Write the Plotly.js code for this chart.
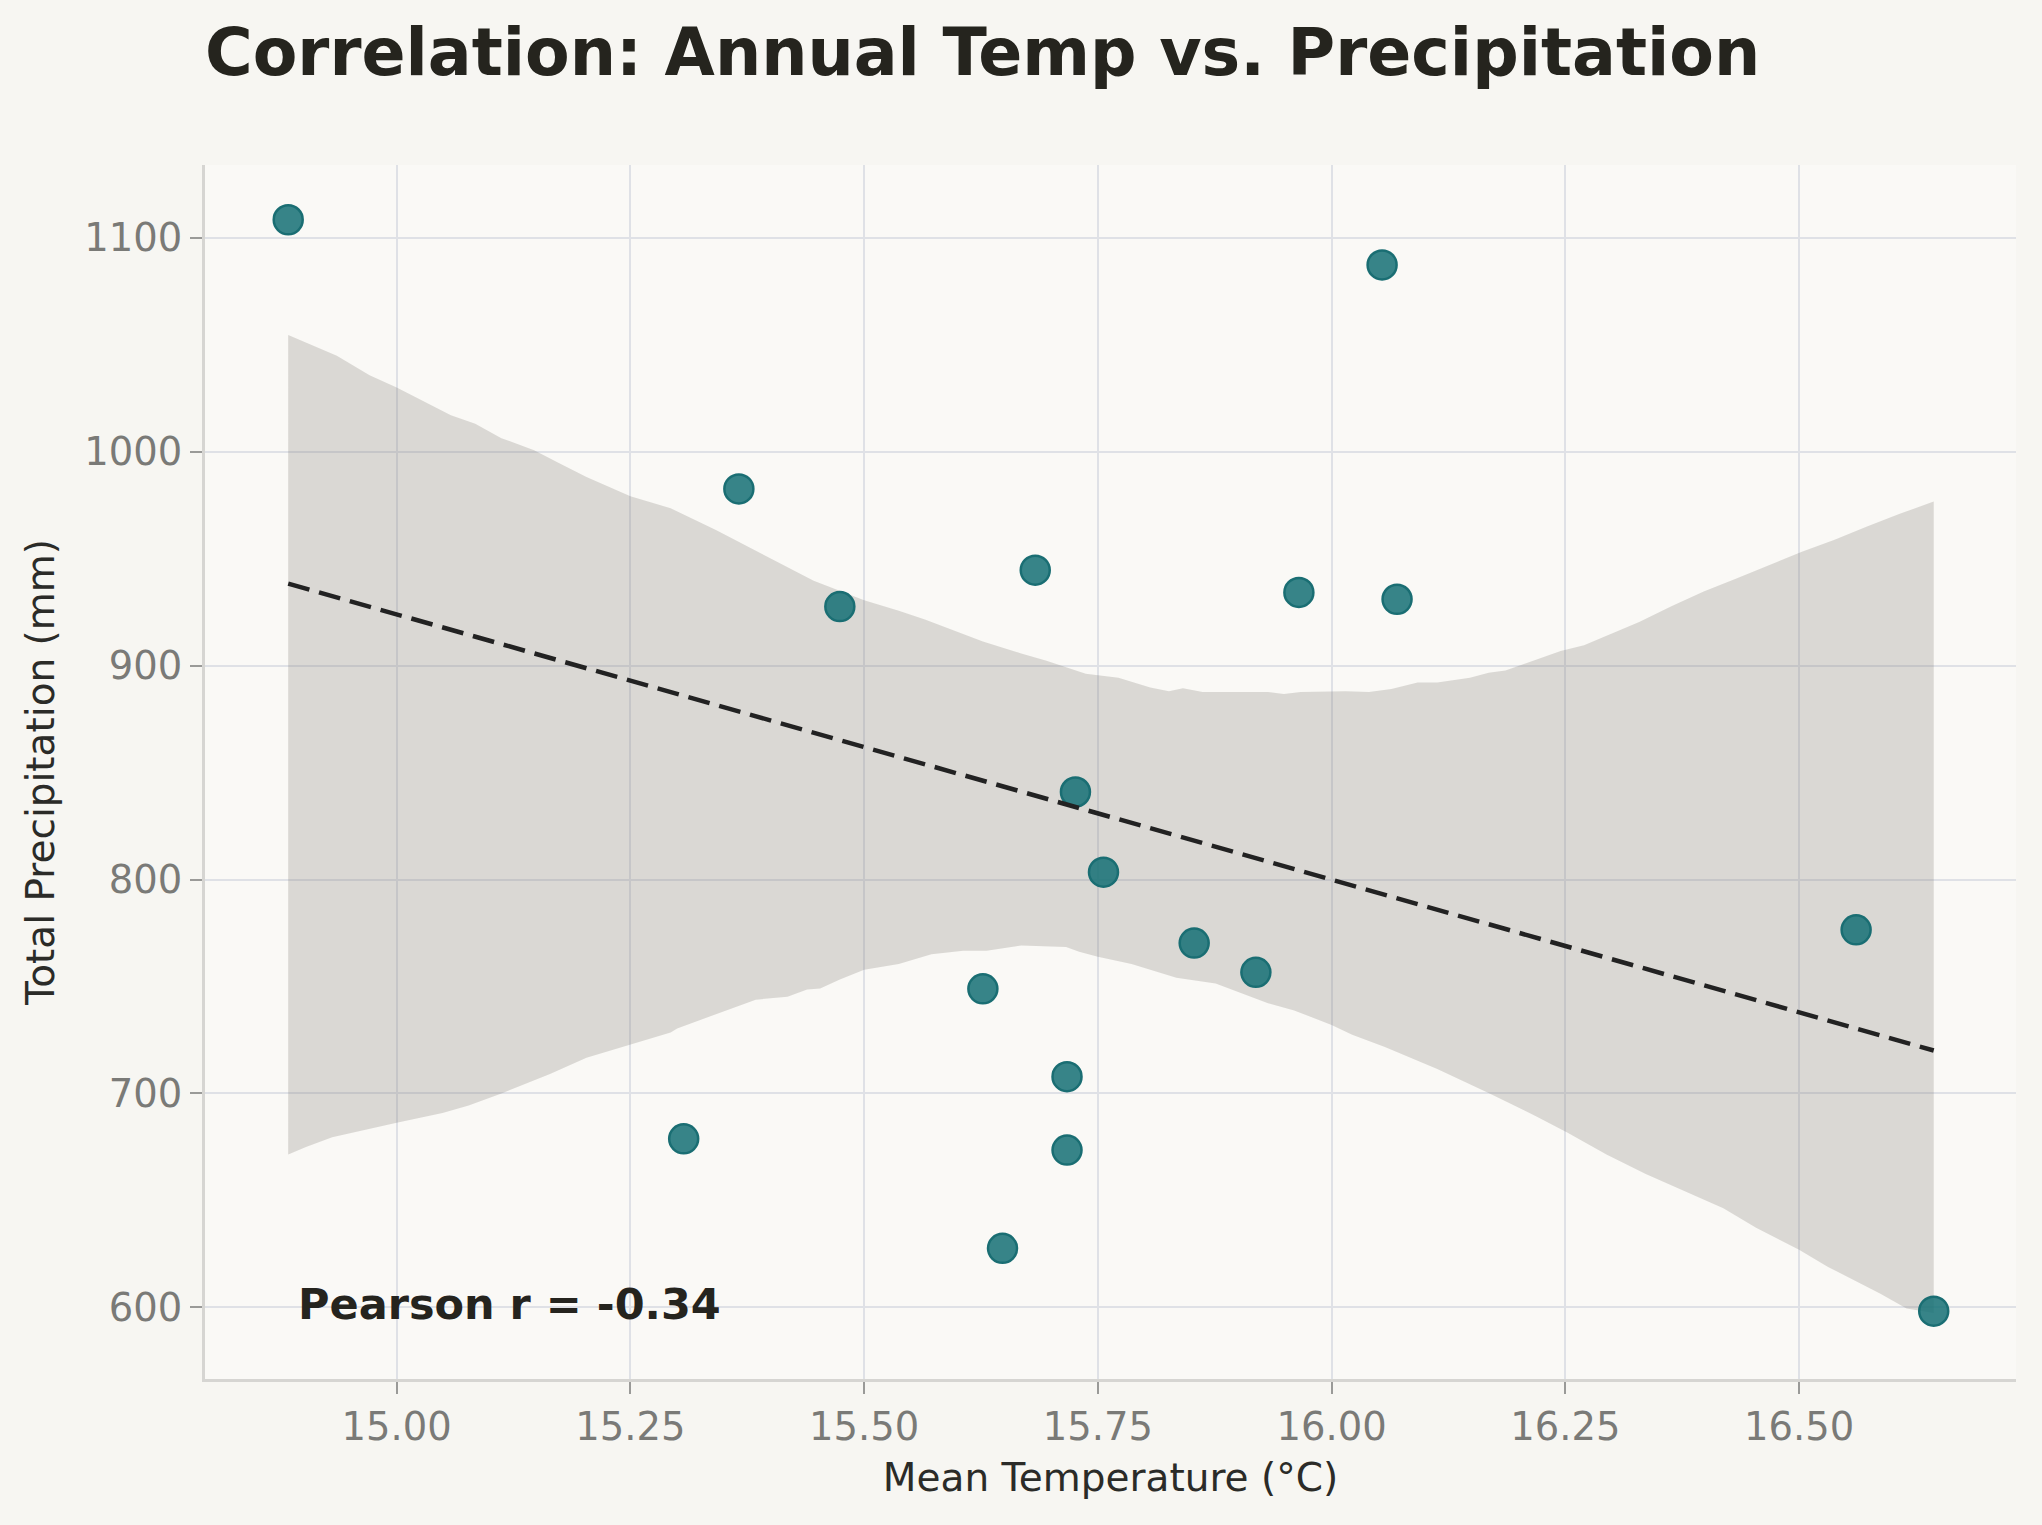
<!DOCTYPE html>
<html>
<head>
<meta charset="utf-8">
<script src="https://cdn.plot.ly/plotly-3.0.1.min.js"></script>
<style>
  html, body { margin: 0; padding: 0; background: #f7f6f2; }
  #chart { width: 2042px; height: 1525px; }
</style>
</head>
<body>
<div id="chart"></div>
<script>
// ---- Data ----
const meanTemp = [14.884, 16.054, 15.366, 15.474, 15.683, 15.965, 16.070, 15.726, 15.756,
                  15.853, 15.919, 16.561, 15.627, 15.717, 15.717, 15.307, 15.648, 16.644];
const totalPrecip = [1108.4, 1087.3, 982.6, 927.6, 944.6, 934.2, 931.0, 840.9, 803.4,
                     770.3, 756.6, 776.5, 748.9, 707.8, 673.5, 678.8, 627.6, 598.2];

// Bootstrap confidence band (upper and lower edges)
const bandUpperX = [14.884, 14.936, 14.971, 15.000, 15.058, 15.084, 15.112, 15.147, 15.175, 15.203,
                    15.250, 15.293, 15.342, 15.377, 15.412, 15.446, 15.500, 15.537, 15.565, 15.600,
                    15.627, 15.668, 15.695, 15.737, 15.772, 15.806, 15.826, 15.841, 15.862, 15.932,
                    15.949, 15.967, 16.015, 16.040, 16.064, 16.092, 16.113, 16.148, 16.168, 16.186,
                    16.217, 16.245, 16.270, 16.294, 16.329, 16.364, 16.398, 16.433, 16.468, 16.503,
                    16.538, 16.572, 16.607, 16.644];
const bandUpperY = [1054.5, 1044.8, 1035.7, 1030.0, 1017.0, 1013.0, 1006.3, 1000.7, 994.3, 988.2,
                    979.2, 973.5, 963.3, 955.4, 947.5, 939.6, 930.5, 925.6, 921.5, 915.8,
                    911.3, 905.7, 902.3, 896.2, 894.3, 889.8, 888.0, 889.4, 887.6, 887.6,
                    886.7, 887.6, 888.0, 887.6, 889.1, 892.1, 892.1, 894.3, 896.6, 897.7,
                    902.3, 906.8, 909.5, 914.0, 920.4, 927.8, 934.6, 940.7, 946.8, 953.2,
                    958.8, 964.9, 970.8, 976.7];
const bandLowerX = [14.884, 14.903, 14.931, 14.966, 15.000, 15.049, 15.077, 15.112, 15.164, 15.203,
                    15.250, 15.293, 15.300, 15.342, 15.384, 15.418, 15.439, 15.453, 15.474, 15.500,
                    15.537, 15.572, 15.606, 15.631, 15.668, 15.716, 15.730, 15.750, 15.786, 15.834,
                    15.876, 15.932, 15.960, 16.000, 16.022, 16.057, 16.113, 16.169, 16.217, 16.252,
                    16.294, 16.336, 16.384, 16.419, 16.454, 16.500, 16.531, 16.559, 16.587, 16.615,
                    16.644];
const bandLowerY = [671.5, 674.9, 679.5, 682.9, 686.3, 690.9, 694.3, 700.0, 709.1, 716.7,
                    722.8, 728.5, 730.4, 737.2, 743.8, 745.2, 748.6, 749.1, 753.2, 757.8,
                    760.5, 765.1, 766.7, 766.7, 769.2, 768.5, 766.2, 763.9, 760.5, 754.1,
                    751.4, 742.2, 738.8, 732.0, 727.4, 721.7, 711.4, 700.0, 689.7, 681.7,
                    671.5, 662.3, 653.2, 646.3, 637.2, 626.9, 618.9, 612.6, 606.4, 599.5,
                    597.3];

const xTickVals = [15.00, 15.25, 15.50, 15.75, 16.00, 16.25, 16.50];
const xTickText = ['15.00', '15.25', '15.50', '15.75', '16.00', '16.25', '16.50'];
const yTickVals = [600, 700, 800, 900, 1000, 1100];
const yTickText = ['600', '700', '800', '900', '1000', '1100'];

const titleText = 'Correlation: Annual Temp vs. Precipitation';
const xTitle = 'Mean Temperature (°C)';
const yTitle = 'Total Precipitation (mm)';
const pearsonText = 'Pearson r = -0.34';

// ---- Least-squares fit from the data ----
const n = meanTemp.length;
const mx = meanTemp.reduce((a, b) => a + b, 0) / n;
const my = totalPrecip.reduce((a, b) => a + b, 0) / n;
let sxy = 0, sxx = 0;
for (let i = 0; i < n; i++) {
  sxy += (meanTemp[i] - mx) * (totalPrecip[i] - my);
  sxx += (meanTemp[i] - mx) ** 2;
}
const slope = sxy / sxx;
const intercept = my - slope * mx;
const xMin = Math.min(...meanTemp), xMax = Math.max(...meanTemp);
const fitX = [xMin, xMax];
const fitY = fitX.map(v => intercept + slope * v);

// band polygon
const bandX = bandUpperX.concat(bandLowerX.slice().reverse());
const bandY = bandUpperY.concat(bandLowerY.slice().reverse());

const FONT = 'DejaVu Sans, Verdana, sans-serif';

const traces = [
  {
    x: bandX, y: bandY, type: 'scatter', mode: 'lines',
    fill: 'toself', fillcolor: 'rgba(122,120,112,0.25)',
    line: { width: 0, color: 'rgba(0,0,0,0)' },
    hoverinfo: 'skip', showlegend: false
  },
  {
    x: meanTemp, y: totalPrecip, type: 'scatter', mode: 'markers',
    marker: { size: 29, color: 'rgba(20,112,116,0.85)', line: { color: '#1a6e73', width: 2.5 } },
    showlegend: false
  },
  {
    x: fitX, y: fitY, type: 'scatter', mode: 'lines',
    line: { color: '#222222', width: 4.5, dash: '22px,10px' },
    showlegend: false
  }
];

const layout = {
  width: 2042, height: 1525, autosize: false,
  paper_bgcolor: '#f7f6f2',
  plot_bgcolor: '#faf9f6',
  margin: { l: 205, r: 26, t: 165, b: 146 },
  font: { family: FONT, color: '#2b2b28' },
  showlegend: false,
  title: {
    text: '<b>' + titleText + '</b>',
    font: { family: FONT, size: 65, color: '#25241e' },
    xref: 'paper', x: 0, xanchor: 'left',
    yref: 'container', y: 0.966, yanchor: 'middle'
  },
  xaxis: {
    range: [14.795, 16.732],
    tickvals: xTickVals, ticktext: xTickText,
    showgrid: true, gridcolor: '#dfe1e6', gridwidth: 2,
    zeroline: false,
    showline: true, linecolor: '#d6d5d2', linewidth: 3,
    ticks: 'outside', ticklen: 12, tickwidth: 2, tickcolor: '#9a9a98',
    tickfont: { family: FONT, size: 38.5, color: '#7a7a77' },
    title: { text: xTitle, font: { family: FONT, size: 39, color: '#2b2b28' }, standoff: 16 },
    mirror: false
  },
  yaxis: {
    range: [566.5, 1134],
    tickvals: yTickVals, ticktext: yTickText,
    showgrid: true, gridcolor: '#dfe1e6', gridwidth: 2,
    zeroline: false,
    showline: true, linecolor: '#d6d5d2', linewidth: 3,
    ticks: 'outside', ticklen: 12, tickwidth: 2, tickcolor: '#9a9a98',
    tickfont: { family: FONT, size: 38.5, color: '#7a7a77' },
    title: { text: yTitle, font: { family: FONT, size: 39, color: '#2b2b28' }, standoff: 18 },
    mirror: false
  },
  annotations: [
    {
      text: '<b>' + pearsonText + '</b>',
      xref: 'x domain', yref: 'y domain', x: 0.05, y: 0.05,
      xanchor: 'left', yanchor: 'bottom', yshift: -13, showarrow: false,
      font: { family: FONT, size: 43, color: '#25241e' }
    }
  ]
};

Plotly.newPlot('chart', traces, layout, { displayModeBar: false, staticPlot: true });
</script>
</body>
</html>
